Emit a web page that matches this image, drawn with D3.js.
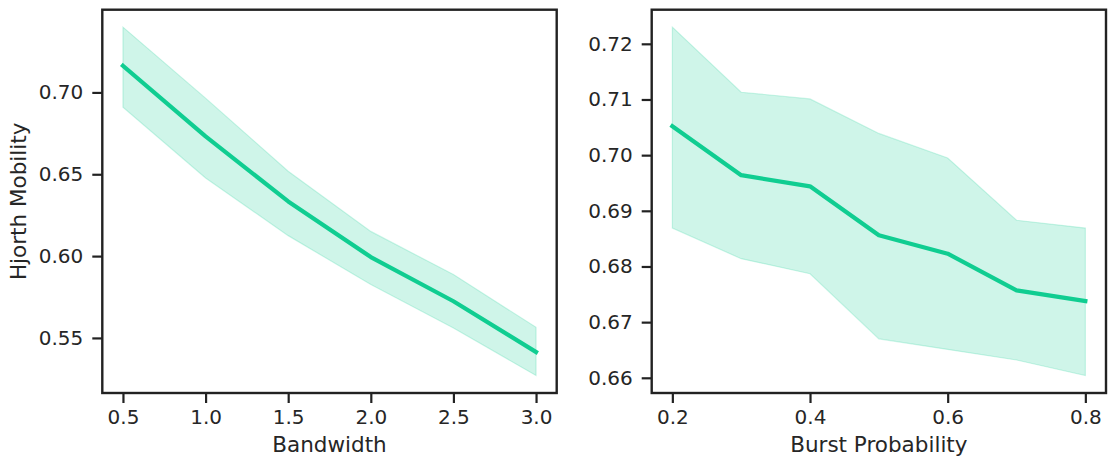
<!DOCTYPE html>
<html>
<head>
<meta charset="utf-8">
<script src="https://cdn.jsdelivr.net/npm/d3@7"></script>
<style>
  html, body { margin: 0; padding: 0; background: #ffffff; }
  svg text { font-family: "DejaVu Sans", sans-serif; fill: #262626; }
</style>
</head>
<body>
<svg id="chart" width="1116" height="466"></svg>
<script>
// ---- Data ----
const bandwidth = [0.5, 1.0, 1.5, 2.0, 2.5, 3.0];
const bandwidthMean  = [0.7163, 0.6731, 0.6334, 0.5994, 0.5724, 0.5414];
const bandwidthUpper = [0.7399, 0.6965, 0.6518, 0.6151, 0.5887, 0.5565];
const bandwidthLower = [0.6910, 0.6477, 0.6125, 0.5826, 0.5561, 0.5270];
const bandwidthXTicks = [0.5, 1.0, 1.5, 2.0, 2.5, 3.0];
const bandwidthYTicks = [0.55, 0.60, 0.65, 0.70];

const burstProb = [0.2, 0.3, 0.4, 0.5, 0.6, 0.7, 0.8];
const burstMean  = [0.7052, 0.6964, 0.6944, 0.6856, 0.6823, 0.6757, 0.6738];
const burstUpper = [0.7230, 0.7113, 0.7101, 0.7039, 0.6995, 0.6883, 0.6869];
const burstLower = [0.6869, 0.6814, 0.6787, 0.6670, 0.6651, 0.6632, 0.6604];
const burstXTicks = [0.2, 0.4, 0.6, 0.8];
const burstYTicks = [0.66, 0.67, 0.68, 0.69, 0.70, 0.71, 0.72];

const yLabel = "Hjorth Mobility";
const lineColor = "#10cd91";
const ink = "#222222";

const svg = d3.select("#chart");
const plotTop = 9.7, plotBottom = 393;

function padded(lo, hi) {
  const r = hi - lo;
  return [lo - 0.05 * r, hi + 0.05 * r];
}

function panel(opts) {
  const { x0, x1, xs, mean, upper, lower, xTicks, yTicks, xFmt, yFmt, xLabel, yLabelText } = opts;
  const x = d3.scaleLinear().domain(padded(d3.min(xs), d3.max(xs))).range([x0, x1]);
  const y = d3.scaleLinear().domain(padded(d3.min(lower), d3.max(upper))).range([plotBottom, plotTop]);
  const g = svg.append("g");

  const pts = xs.map((v, i) => ({ x: v, m: mean[i], u: upper[i], l: lower[i] }));

  g.append("path")
    .datum(pts)
    .attr("d", d3.area().x(d => x(d.x)).y0(d => y(d.l)).y1(d => y(d.u)))
    .attr("fill", lineColor).attr("fill-opacity", 0.2)
    .attr("stroke", lineColor).attr("stroke-opacity", 0.2).attr("stroke-width", 1.2);

  g.append("path")
    .datum(pts)
    .attr("d", d3.line().x(d => x(d.x)).y(d => y(d.m)))
    .attr("fill", "none").attr("stroke", lineColor)
    .attr("stroke-width", 4.2).attr("stroke-linejoin", "round").attr("stroke-linecap", "square");

  const xAxis = d3.axisBottom(x).tickValues(xTicks).tickFormat(xFmt).tickSize(10).tickPadding(7);
  const gx = g.append("g").attr("transform", `translate(0,${plotBottom})`).call(xAxis);
  const yAxis = d3.axisLeft(y).tickValues(yTicks).tickFormat(yFmt).tickSize(10).tickPadding(9);
  const gy = g.append("g").attr("transform", `translate(${x0},0)`).call(yAxis);
  [gx, gy].forEach(a => {
    a.select(".domain").remove();
    a.selectAll(".tick line").attr("stroke", ink).attr("stroke-width", 2.2);
    a.selectAll(".tick text").attr("font-size", "20px").attr("fill", ink)
      .style("font-family", "'DejaVu Sans', sans-serif");
  });

  g.append("rect")
    .attr("x", x0).attr("y", plotTop).attr("width", x1 - x0).attr("height", plotBottom - plotTop)
    .attr("fill", "none").attr("stroke", ink).attr("stroke-width", 2.4);

  g.append("text")
    .attr("x", (x0 + x1) / 2).attr("y", 451.5)
    .attr("text-anchor", "middle").attr("font-size", "21.5px").attr("fill", ink)
    .text(xLabel);

  if (yLabelText) {
    g.append("text")
      .attr("transform", `translate(26,${(plotTop + plotBottom) / 2}) rotate(-90)`)
      .attr("text-anchor", "middle").attr("font-size", "21.5px").attr("fill", ink)
      .text(yLabelText);
  }
}

panel({
  x0: 102.3, x1: 556.7, xs: bandwidth, mean: bandwidthMean, upper: bandwidthUpper, lower: bandwidthLower,
  xTicks: bandwidthXTicks, yTicks: bandwidthYTicks, xFmt: d3.format(".1f"), yFmt: d3.format(".2f"),
  xLabel: "Bandwidth", yLabelText: yLabel
});

panel({
  x0: 651.7, x1: 1106, xs: burstProb, mean: burstMean, upper: burstUpper, lower: burstLower,
  xTicks: burstXTicks, yTicks: burstYTicks, xFmt: d3.format(".1f"), yFmt: d3.format(".2f"),
  xLabel: "Burst Probability", yLabelText: null
});
</script>
</body>
</html>
